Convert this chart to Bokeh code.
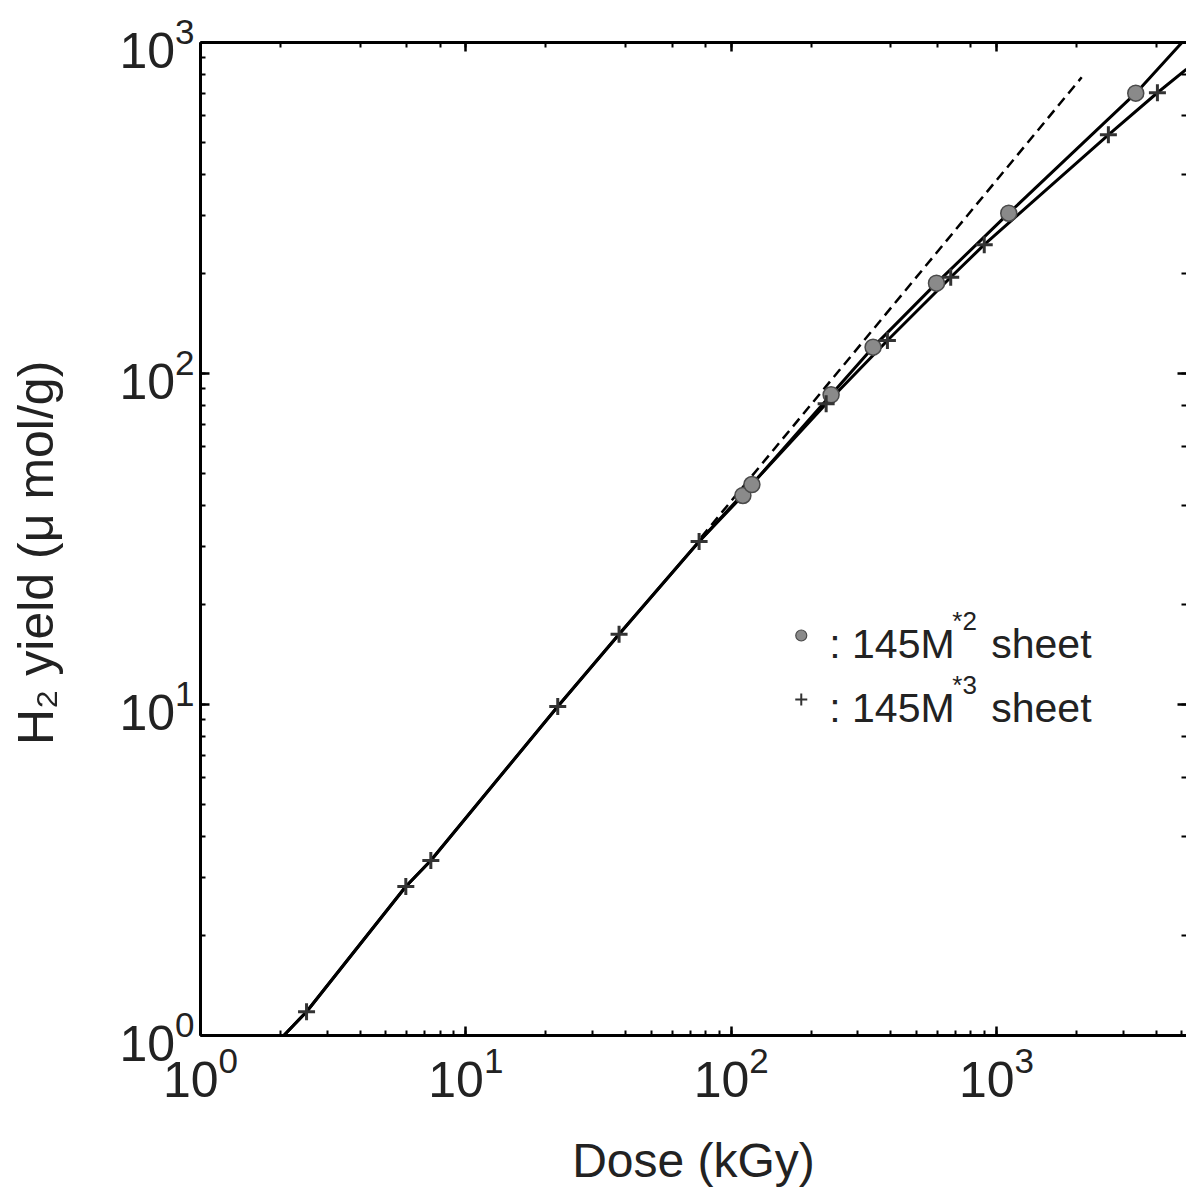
from bokeh.plotting import figure
from bokeh.models import LogAxis, Label, Range1d
from bokeh.embed import file_html
from bokeh.resources import INLINE

# ---------------- data ----------------
cross_dose = [2.51, 5.94, 7.38, 22.2, 37.8, 75.7, 228, 388, 672, 899, 2640, 4040]
cross_yield = [1.18, 2.82, 3.38, 9.86, 16.3, 31.1, 81.0, 125.8, 195.4, 245, 526, 705]

circle_dose = [110.7, 119.7, 238, 342.6, 594, 1112, 3348]
circle_yield = [42.8, 46.2, 86.2, 120.1, 187.5, 305, 703]

line_a_dose = [2.06, 2.51, 5.94, 7.38, 22.2, 37.8, 75.7, 228, 388, 672, 899, 2640, 4040, 5200]
line_a_yield = [1.0, 1.18, 2.82, 3.38, 9.86, 16.3, 31.1, 81.0, 125.8, 195.4, 245, 526, 705, 830]

line_b_dose = [2.06, 2.51, 5.94, 7.38, 22.2, 37.8, 75.7, 110.7, 119.7, 238, 342.6, 594, 1112, 3348, 5000]
line_b_yield = [1.0, 1.18, 2.82, 3.38, 9.86, 16.3, 31.1, 42.8, 46.2, 86.2, 120.1, 187.5, 305, 703, 1000]

dash_dose = [77.1, 2094]
dash_yield = [32.0, 785]

x_label = "Dose (kGy)"
y_label = "H\u2082 yield (\u03bc mol/g)\u00a0\u00a0"
legend_names = [": 145M", ": 145M"]
legend_sups = ["*2", "*3"]
legend_tail = "sheet"

FONT = "Liberation Sans"

p = figure(width=1186, height=1192,
           x_axis_type="log", y_axis_type="log",
           x_range=Range1d(1, 5200), y_range=Range1d(1, 1000),
           output_backend="svg", toolbar_location=None,
           min_border_left=200, min_border_right=0,
           min_border_top=42, min_border_bottom=157)
p.grid.visible = False
p.outline_line_color = None
p.background_fill_color = "white"
p.border_fill_color = "white"

top_axis = LogAxis()
right_axis = LogAxis()
p.add_layout(top_axis, "above")
p.add_layout(right_axis, "right")


def style_axis(ax, labels=True):
    ax.axis_line_color = "black"
    ax.axis_line_width = 3
    ax.major_tick_in = 9
    ax.major_tick_out = 0
    ax.minor_tick_in = 5
    ax.minor_tick_out = 0
    ax.major_tick_line_width = 2.5
    ax.minor_tick_line_width = 2
    ax.major_tick_line_color = "black"
    ax.minor_tick_line_color = "black"
    if labels:
        ax.major_label_text_font = FONT
        ax.major_label_text_font_size = "50px"
        ax.major_label_text_color = "#222222"
        ax.axis_label_text_font = FONT
        ax.axis_label_text_font_style = "normal"
        ax.axis_label_text_color = "#222222"
    else:
        ax.major_label_text_font_size = "1px"
        ax.major_label_text_color = None
        ax.major_label_standoff = 0


for ax in p.xaxis:
    style_axis(ax, labels=(ax is not top_axis))
for ax in p.yaxis:
    style_axis(ax, labels=(ax is not right_axis))
right_axis.axis_line_color = None

bottom = p.below[0]
bottom.major_label_standoff = 10
bottom.axis_label = x_label
bottom.axis_label_text_font_size = "48px"
bottom.axis_label_standoff = 34

left = p.left[0]
left.major_label_standoff = 6
left.axis_label = y_label
left.axis_label_text_font_size = "50px"
left.axis_label_standoff = 52

# ---------------- curves ----------------
p.line(dash_dose, dash_yield, line_color="black", line_width=2.5, line_dash="10 6")
p.line(line_a_dose, line_a_yield, line_color="black", line_width=3)
p.line(line_b_dose, line_b_yield, line_color="black", line_width=3)

p.scatter(circle_dose, circle_yield, marker="circle", size=16,
          fill_color="#8a8a8a", line_color="#4a4a4a", line_width=1.5)
p.scatter(cross_dose, cross_yield, marker="cross", size=17,
          line_color="#333333", line_width=3)


# ---------------- legend (annotations) ----------------
def px_x(px):
    return 10 ** ((px - 200) / 265.0)


def px_y(py):
    return 10 ** ((1035 - py) / 331.0)


leg_x = px_x(800)
leg_rows = [px_y(635), px_y(699)]
p.scatter([leg_x], [leg_rows[0]], marker="circle", size=11,
          fill_color="#8a8a8a", line_color="#4a4a4a", line_width=1.2)
p.scatter([leg_x], [leg_rows[1]], marker="cross", size=12,
          line_color="#333333", line_width=2)
for row_y, name, sup in zip(leg_rows, legend_names, legend_sups):
    p.add_layout(Label(x=leg_x, y=row_y, x_offset=28, y_offset=-8, text=name,
                       text_font=FONT, text_font_size="41px", text_color="#222222",
                       text_baseline="alphabetic"))
    p.add_layout(Label(x=leg_x, y=row_y, x_offset=151, y_offset=15, text=sup,
                       text_font=FONT, text_font_size="26px", text_color="#222222",
                       text_baseline="alphabetic"))
    p.add_layout(Label(x=leg_x, y=row_y, x_offset=190, y_offset=-8, text=legend_tail,
                       text_font=FONT, text_font_size="41px", text_color="#222222",
                       text_baseline="alphabetic"))

open("out.html", "w").write(file_html(p, INLINE))
